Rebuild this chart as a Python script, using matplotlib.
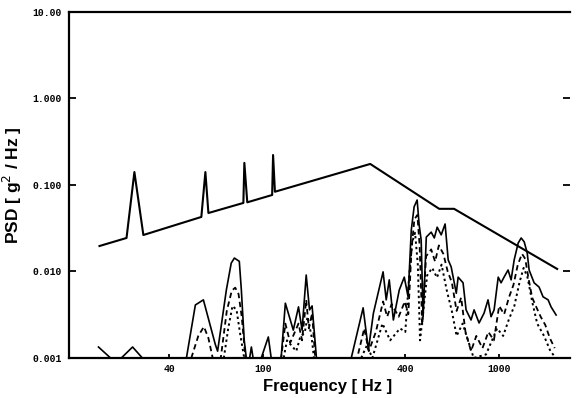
import numpy as np
import matplotlib
matplotlib.use("Agg")
import matplotlib.pyplot as plt
from matplotlib.ticker import FixedLocator, NullLocator

# test specification (upper solid line), Hz / g^2/Hz
spec_f = [20.2, 26.3, 28.4, 31.0, 54.6, 56.8, 58.5, 82.3, 83.1, 85.5,
          109, 110, 112, 284, 557, 644, 1762]
spec_psd = [0.0197, 0.0244, 0.141, 0.0264, 0.0427, 0.141, 0.0474, 0.062, 0.18, 0.063,
            0.0766, 0.222, 0.0835, 0.175, 0.053, 0.053, 0.0107]

# measured response, highest channel (solid)
hi_f = [20.0, 22.5, 25.0, 27.9, 30.7, 47.2, 51.5, 55.7, 62.6, 64.0,
        69.7, 73.1, 75.4, 79.1, 80.7, 83.0, 84.7, 87.5, 89.0, 90.5,
        98, 105, 108, 119, 124, 134, 141, 146, 152, 157,
        161, 168, 236, 265, 279, 293, 322, 332, 342, 356,
        377, 396, 411, 424, 436, 449, 458, 467, 476, 491,
        515, 531, 546, 568, 590, 608, 626, 658, 670, 703,
        724, 760, 783, 822, 863, 897, 924, 952, 991, 1019,
        1049, 1091, 1124, 1158, 1204, 1240, 1277, 1315, 1340, 1407,
        1477, 1535, 1613, 1660, 1744]
hi_psd = [0.00134, 0.001, 0.001, 0.00134, 0.001, 0.001, 0.0041, 0.0047, 0.00143, 0.0012,
          0.0061, 0.0125, 0.0143, 0.0131, 0.0061, 0.0016, 0.001, 0.001, 0.00134, 0.001,
          0.001, 0.00175, 0.001, 0.001, 0.0043, 0.0021, 0.0039, 0.0021, 0.0091, 0.0036,
          0.0040, 0.001, 0.001, 0.0038, 0.00124, 0.0033, 0.0099, 0.0047, 0.0080, 0.00275,
          0.0061, 0.0086, 0.0051, 0.030, 0.056, 0.067, 0.0345, 0.0231, 0.0030, 0.025,
          0.0285, 0.0244, 0.0325, 0.0265, 0.0354, 0.0136, 0.0113, 0.0056, 0.0086, 0.0074,
          0.0036, 0.00275, 0.0036, 0.00254, 0.0033, 0.0047, 0.0030, 0.0036, 0.0086, 0.0074,
          0.0086, 0.0104, 0.0080, 0.0136, 0.0213, 0.0244, 0.022, 0.0164, 0.0104, 0.0074,
          0.0066, 0.0051, 0.0047, 0.0039, 0.00314]

# middle channel (dashed)
mid_f = [49.5, 53.0, 56.0, 58.5, 61.0, 66.0, 70.0, 73.5, 76.0, 78.5,
         81.0, 84.0, 119, 124, 130, 141, 146, 152, 156, 161,
         166, 250, 268, 280, 300, 322, 335, 350, 375, 398,
         412, 425, 437, 450, 460, 472, 490, 515, 535, 555,
         580, 605, 630, 660, 690, 720, 760, 800, 850, 900,
         950, 1000, 1050, 1100, 1150, 1200, 1250, 1290, 1330, 1380,
         1430, 1500, 1570, 1640, 1720]
mid_psd = [0.001, 0.0018, 0.0023, 0.0017, 0.001, 0.001, 0.0035, 0.0060, 0.0065, 0.0055,
           0.0030, 0.001, 0.001, 0.0025, 0.0015, 0.0025, 0.0016, 0.0047, 0.0022, 0.0033,
           0.001, 0.001, 0.0022, 0.0012, 0.0020, 0.0045, 0.0030, 0.0042, 0.0030, 0.0045,
           0.0032, 0.018, 0.040, 0.045, 0.020, 0.0024, 0.015, 0.018, 0.013, 0.020,
           0.016, 0.010, 0.0075, 0.0035, 0.0050, 0.0020, 0.0012, 0.0018, 0.0013, 0.0020,
           0.0016, 0.0040, 0.0032, 0.0050, 0.0070, 0.012, 0.016, 0.014, 0.0085, 0.0050,
           0.0040, 0.0030, 0.0024, 0.0017, 0.0013]

# lowest channel (dotted)
lo_f = [68.0, 71.0, 74.0, 77.0, 80.0, 83.0, 122, 126, 138, 143,
        150, 154, 160, 164, 260, 275, 290, 320, 345, 380,
        400, 415, 428, 440, 452, 462, 474, 495, 520, 545,
        570, 600, 630, 660, 700, 780, 880, 980, 1040, 1100,
        1160, 1220, 1270, 1320, 1380, 1450, 1550, 1650, 1740]
lo_psd = [0.001, 0.0022, 0.0040, 0.0036, 0.0018, 0.001, 0.001, 0.0016, 0.0012, 0.0017,
          0.0020, 0.0030, 0.0018, 0.001, 0.001, 0.0014, 0.001, 0.0025, 0.0016, 0.0022,
          0.0020, 0.0085, 0.022, 0.028, 0.012, 0.0016, 0.0030, 0.0090, 0.011, 0.0085,
          0.012, 0.0060, 0.0035, 0.0018, 0.0025, 0.001, 0.0011, 0.0022, 0.0018, 0.0028,
          0.0040, 0.0075, 0.011, 0.0085, 0.0045, 0.0025, 0.0018, 0.0012, 0.001]

x_ticks = [40, 100, 400, 1000]
x_labels = ["40", "100", "400", "1000"]
y_ticks = [0.001, 0.01, 0.1, 1.0, 10.0]
y_labels = ["0.001", "0.010", "0.100", "1.000", "10.00"]

fig = plt.figure(figsize=(5.78, 3.98), dpi=100)
ax = fig.add_axes([0.1194, 0.1005, 0.867, 0.8695])

ax.plot(spec_f, spec_psd, color="black", lw=1.5)
ax.plot(hi_f, hi_psd, color="black", lw=1.2)
ax.plot(mid_f, mid_psd, color="black", lw=1.3, ls=(0, (3, 2)))
ax.plot(lo_f, lo_psd, color="black", lw=1.4, ls=(0, (1.2, 1.6)))

ax.set_xscale("log")
ax.set_yscale("log")
ax.set_xlim(15, 2000)
ax.set_ylim(0.001, 10)

ax.xaxis.set_major_locator(FixedLocator(x_ticks))
ax.xaxis.set_minor_locator(NullLocator())
ax.yaxis.set_major_locator(FixedLocator(y_ticks))
ax.yaxis.set_minor_locator(NullLocator())
ax.set_xticklabels(x_labels)
ax.set_yticklabels(y_labels)

for lab in ax.get_xticklabels() + ax.get_yticklabels():
    lab.set_fontfamily("Liberation Mono")
    lab.set_fontweight("bold")
    lab.set_fontsize(7)

ax.tick_params(axis="both", direction="in", length=5, width=1.3, pad=5,
               right=True, top=False)
ax.tick_params(axis="x", length=3, pad=4)

for side in ["left", "bottom", "top"]:
    ax.spines[side].set_linewidth(1.6)
ax.spines["right"].set_visible(False)

ax.set_xlabel("Frequency [ Hz ]", fontfamily="Liberation Sans", fontweight="bold",
              fontsize=12)
ax.set_ylabel("PSD [ g$^2$ / Hz ]", fontfamily="Liberation Sans", fontweight="bold",
              fontsize=12.5)
ax.xaxis.set_label_coords(0.516, -0.06)
ax.yaxis.set_label_coords(-0.09, 0.5)

fig.savefig("out.png", dpi=100)
